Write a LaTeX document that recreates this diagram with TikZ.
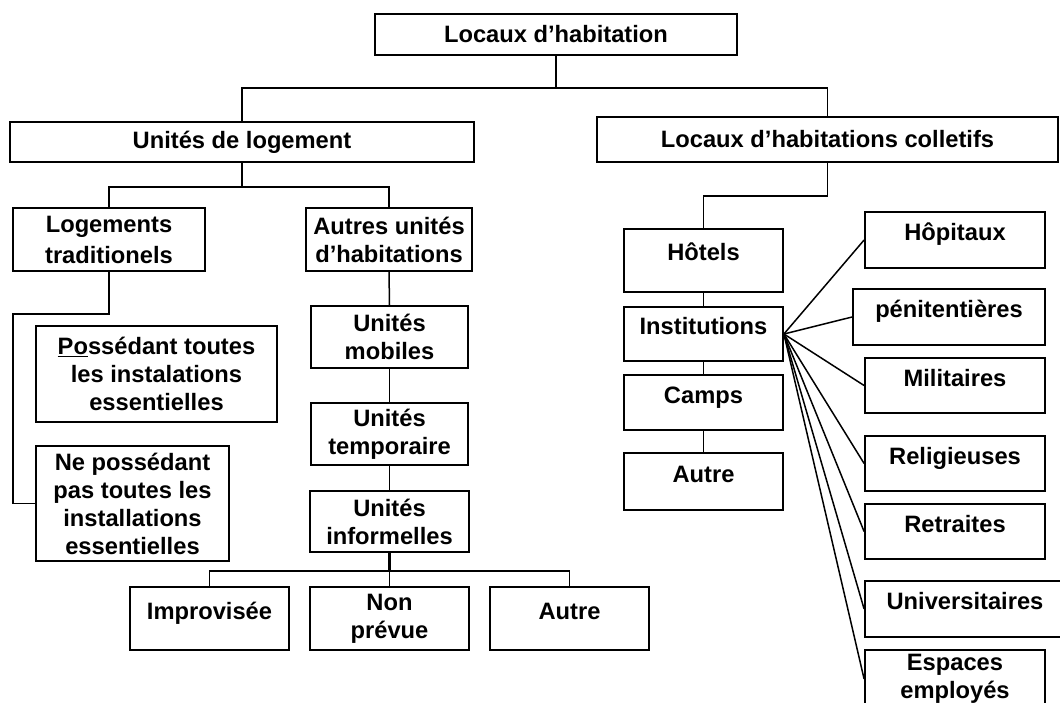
\documentclass[tikz,border=0pt]{standalone}
\usepackage{fontspec}
\setmainfont{Liberation Sans}
\usetikzlibrary{positioning}

\begin{document}
\begin{tikzpicture}[
    x=1pt, y=-1pt,
    box/.style 2 args={rectangle, draw, line width=1.8pt, fill=white, align=center, inner sep=2pt, font=\fontsize{23.7}{28}\selectfont\bfseries, minimum width=#1pt, minimum height=#2pt},
    onel/.style={text height=18pt, text depth=17pt},
    link/.style={line width=1.5pt}
]
\useasboundingbox (0,0) rectangle (1060,703);

% Top level
\node[box={362}{41}] (root) at (556,34.5) {Locaux d’habitation};
\node[box={464}{40}] (logt) at (242,142) {Unités de logement};
\node[box={461}{45}] (coll) at (827.5,139.5) {Locaux d’habitations colletifs};

% Unites de logement
\node[box={192}{63}] (trad) at (109,239.5) {Logements\\[3pt]traditionels};
\node[box={166}{63}] (autres) at (389,239.5) {Autres unités\\d’habitations};
\node[box={241}{96}] (poss) at (156.5,374) {\underline{Po}ssédant toutes\\les instalations\\essentielles};
\node[box={193}{115}] (nposs) at (132.5,503.5) {Ne possédant\\pas toutes les\\installations\\essentielles};
\node[box={157}{62}] (mobil) at (389.5,337) {Unités\\mobiles};
\node[box={157}{62}] (tempo) at (389.5,434) {Unités\\temporaire};
\node[box={159}{61}] (infor) at (389.5,521.5) {Unités\\informelles};
\node[box={159}{63}, onel] (impro) at (209.5,618.5) {Improvisée};
\node[box={159}{63}] (nonpr) at (389.5,618.5) {Non\\prévue};
\node[box={159}{63}, onel] (autrea) at (569.5,618.5) {Autre};

% Locaux collectifs
\node[box={159}{63}, onel] (hotel) at (703.5,260.5) {Hôtels};
\node[box={159}{54}, onel] (inst) at (703.5,334) {Institutions};
\node[box={159}{55}, onel] (camps) at (703.5,402.5) {Camps};
\node[box={159}{57}, onel] (autreb) at (703.5,481.5) {Autre};

% Institutions
\node[box={180}{56}, onel] (hopit) at (955,240) {Hôpitaux};
\node[box={192}{56}, onel] (penit) at (949,317) {pénitentières};
\node[box={180}{55}, onel] (milit) at (955,385.5) {Militaires};
\node[box={180}{55}, onel] (relig) at (955,463.5) {Religieuses};
\node[box={180}{55}, onel] (retra) at (955,531.5) {Retraites};
\node[box={200}{56}, onel] (unive) at (965,609) {Universitaires};
\node[box={180}{58}] (espac) at (955,679) {Espaces\\employés};

% Connectors
\draw[link] (root.south) -- ++(0,32) coordinate (rootj);
\draw[link] (rootj) -| (logt.north);
\draw[link] (rootj) -| (coll.north);

\draw[link] (logt.south) -- ++(0,24) coordinate (logtj);
\draw[link] (logtj) -| (trad.north);
\draw[link] (logtj) -| (autres.north);
\draw[link] (trad.south) -- ++(0,42) -- ++(-96,0) |- (nposs.west);

\draw[link] (autres.south) -- (mobil.north);
\draw[link] (mobil.south) -- (tempo.north);
\draw[link] (tempo.south) -- (infor.north);
\draw[link, line width=3pt] (infor.south) -- ++(0,18) coordinate (inforj);
\draw[link] (inforj) -| (impro.north);
\draw[link] (inforj) -| (nonpr.north);
\draw[link] (inforj) -| (autrea.north);

\draw[link] (coll.south) -- ++(0,33) coordinate (collj);
\draw[link] (collj) -| (hotel.north);
\draw[link] (hotel.south) -- (inst.north);
\draw[link] (inst.south) -- (camps.north);
\draw[link] (camps.south) -- (autreb.north);

\foreach \t in {hopit, penit, milit, relig, retra, unive, espac}
    \draw[link] (inst.east) -- (\t.west);

\end{tikzpicture}
\end{document}
